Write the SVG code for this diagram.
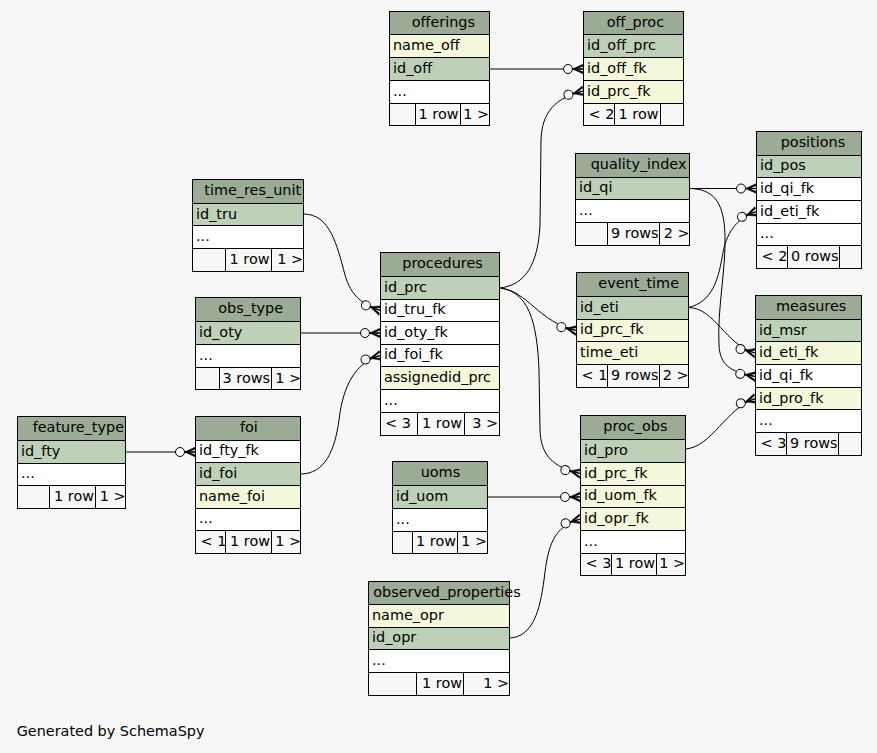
<svg xmlns="http://www.w3.org/2000/svg" width="877" height="753" viewBox="0 0 877 753">
<style>
.h{fill:#9bab96;stroke:#000;stroke-width:1}
.pk{fill:#bed1b8;stroke:#000;stroke-width:1}
.fk{fill:#f4f7da;stroke:#000;stroke-width:1}
.w{fill:#ffffff;stroke:#000;stroke-width:1}
.f{fill:#f7f7f7;stroke:#000;stroke-width:1}
text{font-family:"DejaVu Sans","Liberation Sans",sans-serif;font-size:14.4px;fill:#000}
.e{text-anchor:end}
.c{fill:none;stroke:#000;stroke-width:1;marker-end:url(#cf)}
</style>
<defs>
<marker id="cf" markerUnits="userSpaceOnUse" orient="auto" viewBox="-22 -7 23 14" markerWidth="23" markerHeight="14" refX="0" refY="0">
<polygon points="0,-5 -11,0 0,5 0,3 -7.5,0 0,-3" fill="#000" stroke="#000" stroke-width="0.5"/>
<path d="M-11,0 H0" stroke="#000" stroke-width="1.2"/>
<circle cx="-15.5" cy="0" r="4.5" fill="#f7f7f7" stroke="#000" stroke-width="1"/>
</marker>
</defs>
<rect x="0" y="0" width="877" height="753" fill="#f7f7f7"/>

<g id="connectors">
<path class="c" d="M489.5,69 H583.5"/>
<path class="c" d="M500,288 C525,285 538,265 540,225 L541,140 C542,112 555,98 583.5,91"/>
<path class="c" d="M500,288 C528,291 538,322 576.5,330.5"/>
<path class="c" d="M500,288 C528,292 537,320 539,370 L540,430 C541,455 552,467 580.5,473.5"/>
<path class="c" d="M303.5,214 C330,214 337,245 345,275 C351,296 362,304 380.5,310.5"/>
<path class="c" d="M300.5,333 H380.5"/>
<path class="c" d="M300.5,474 C325,474 335,450 339,420 C343,385 356,362 380.5,355.5"/>
<path class="c" d="M125.5,452 H195.5"/>
<path class="c" d="M487.5,497 H580.5"/>
<path class="c" d="M509.5,638 C533,637 540,610 544,580 C548,545 553,527 580.5,519"/>
<path class="c" d="M689.5,188.5 H756.5"/>
<path class="c" d="M688.5,307.5 C712,302 718,280 722,258 C726,232 736,219 756.5,211.5"/>
<path class="c" d="M688.5,307.5 C715,308 725,345 755.5,353"/>
<path class="c" d="M689.5,188.5 C712,189 724,200 725,235 C726,270 717,310 719,345 C720,365 730,372 755.5,376.5"/>
<path class="c" d="M685.5,449 C712,447 726,408 755.5,398.5"/>
</g>

<g id="offerings">
<rect class="h" x="389.5" y="11.5" width="100" height="23"/>
<rect class="fk" x="389.5" y="34.5" width="100" height="23"/>
<rect class="pk" x="389.5" y="57.5" width="100" height="23"/>
<rect class="w" x="389.5" y="80.5" width="100" height="23"/>
<rect class="f" x="389.5" y="103.5" width="26" height="22"/>
<rect class="f" x="415.5" y="103.5" width="45" height="22"/>
<rect class="f" x="460.5" y="103.5" width="29" height="22"/>
<text x="411.7" y="26.5">offerings</text>
<text x="393" y="49.5">name_off</text>
<text x="393" y="72.5">id_off</text>
<text x="393" y="95.5">...</text>
<text class="e" x="458.5" y="118.5">1 row</text>
<text class="e" x="489" y="118.5">1 &gt;</text>
</g>

<g id="off_proc">
<rect class="h" x="583.5" y="11.5" width="100" height="23"/>
<rect class="pk" x="583.5" y="34.5" width="100" height="23"/>
<rect class="fk" x="583.5" y="57.5" width="100" height="23"/>
<rect class="fk" x="583.5" y="80.5" width="100" height="23"/>
<rect class="f" x="583.5" y="103.5" width="31" height="22"/>
<rect class="f" x="614.5" y="103.5" width="46" height="22"/>
<rect class="f" x="660.5" y="103.5" width="23" height="22"/>
<text x="606.7" y="26.5">off_proc</text>
<text x="587" y="49.5">id_off_prc</text>
<text x="587" y="72.5">id_off_fk</text>
<text x="587" y="95.5">id_prc_fk</text>
<text x="588.5" y="118.5">&lt; 2</text>
<text class="e" x="658.5" y="118.5">1 row</text>
</g>

<g id="time_res_unit">
<rect class="h" x="192.5" y="179.5" width="111" height="24"/>
<rect class="pk" x="192.5" y="203.5" width="111" height="22"/>
<rect class="w" x="192.5" y="225.5" width="111" height="23"/>
<rect class="f" x="192.5" y="248.5" width="33" height="23"/>
<rect class="f" x="225.5" y="248.5" width="46" height="23"/>
<rect class="f" x="271.5" y="248.5" width="32" height="23"/>
<text x="204.3" y="194.5">time_res_unit</text>
<text x="196" y="218.5">id_tru</text>
<text x="196" y="240.5">...</text>
<text class="e" x="269.5" y="263.5">1 row</text>
<text class="e" x="303" y="263.5">1 &gt;</text>
</g>

<g id="obs_type">
<rect class="h" x="195.5" y="297.5" width="105" height="24"/>
<rect class="pk" x="195.5" y="321.5" width="105" height="23"/>
<rect class="w" x="195.5" y="344.5" width="105" height="23"/>
<rect class="f" x="195.5" y="367.5" width="24" height="22"/>
<rect class="f" x="219.5" y="367.5" width="52" height="22"/>
<rect class="f" x="271.5" y="367.5" width="29" height="22"/>
<text x="218.3" y="312.5">obs_type</text>
<text x="199" y="336.5">id_oty</text>
<text x="199" y="359.5">...</text>
<text class="e" x="270" y="382.5">3 rows</text>
<text class="e" x="301" y="382.5">1 &gt;</text>
</g>

<g id="procedures">
<rect class="h" x="380.5" y="252.5" width="119" height="24"/>
<rect class="pk" x="380.5" y="276.5" width="119" height="23"/>
<rect class="w" x="380.5" y="299.5" width="119" height="22"/>
<rect class="w" x="380.5" y="321.5" width="119" height="23"/>
<rect class="w" x="380.5" y="344.5" width="119" height="22"/>
<rect class="fk" x="380.5" y="366.5" width="119" height="23"/>
<rect class="w" x="380.5" y="389.5" width="119" height="23"/>
<rect class="f" x="380.5" y="412.5" width="37" height="23"/>
<rect class="f" x="417.5" y="412.5" width="47" height="23"/>
<rect class="f" x="464.5" y="412.5" width="35" height="23"/>
<text x="402.3" y="267.5">procedures</text>
<text x="384" y="291.5">id_prc</text>
<text x="384" y="314">id_tru_fk</text>
<text x="384" y="336.5">id_oty_fk</text>
<text x="384" y="359">id_foi_fk</text>
<text x="384" y="381.5">assignedid_prc</text>
<text x="384" y="404.5">...</text>
<text x="385" y="427.5">&lt; 3</text>
<text class="e" x="462" y="427.5">1 row</text>
<text class="e" x="498" y="427.5">3 &gt;</text>
</g>

<g id="quality_index">
<rect class="h" x="575.5" y="153.5" width="114" height="24"/>
<rect class="pk" x="575.5" y="177.5" width="114" height="22"/>
<rect class="w" x="575.5" y="199.5" width="114" height="23"/>
<rect class="f" x="575.5" y="222.5" width="32" height="23"/>
<rect class="f" x="607.5" y="222.5" width="52" height="23"/>
<rect class="f" x="659.5" y="222.5" width="30" height="23"/>
<text x="590.7" y="168.5">quality_index</text>
<text x="579" y="192">id_qi</text>
<text x="579" y="214.5">...</text>
<text class="e" x="658.5" y="237.5">9 rows</text>
<text class="e" x="689.5" y="237.5">2 &gt;</text>
</g>

<g id="positions">
<rect class="h" x="756.5" y="131.5" width="105" height="24"/>
<rect class="pk" x="756.5" y="155.5" width="105" height="22"/>
<rect class="w" x="756.5" y="177.5" width="105" height="23"/>
<rect class="w" x="756.5" y="200.5" width="105" height="23"/>
<rect class="w" x="756.5" y="223.5" width="105" height="22"/>
<rect class="f" x="756.5" y="245.5" width="31" height="23"/>
<rect class="f" x="787.5" y="245.5" width="52" height="23"/>
<rect class="f" x="839.5" y="245.5" width="22" height="23"/>
<text x="780.7" y="146.5">positions</text>
<text x="760" y="170">id_pos</text>
<text x="760" y="192.5">id_qi_fk</text>
<text x="760" y="215.5">id_eti_fk</text>
<text x="760" y="238">...</text>
<text x="761.5" y="260.5">&lt; 2</text>
<text class="e" x="838.5" y="260.5">0 rows</text>
</g>

<g id="event_time">
<rect class="h" x="576.5" y="272.5" width="112" height="24"/>
<rect class="pk" x="576.5" y="296.5" width="112" height="23"/>
<rect class="fk" x="576.5" y="319.5" width="112" height="22"/>
<rect class="fk" x="576.5" y="341.5" width="112" height="23"/>
<rect class="f" x="576.5" y="364.5" width="31" height="23"/>
<rect class="f" x="607.5" y="364.5" width="52" height="23"/>
<rect class="f" x="659.5" y="364.5" width="29" height="23"/>
<text x="598.3" y="287.5">event_time</text>
<text x="580" y="311.5">id_eti</text>
<text x="580" y="334">id_prc_fk</text>
<text x="580" y="356.5">time_eti</text>
<text x="581.5" y="379.5">&lt; 1</text>
<text class="e" x="658.5" y="379.5">9 rows</text>
<text class="e" x="688.5" y="379.5">2 &gt;</text>
</g>

<g id="measures">
<rect class="h" x="755.5" y="295.5" width="106" height="24"/>
<rect class="pk" x="755.5" y="319.5" width="106" height="22"/>
<rect class="fk" x="755.5" y="341.5" width="106" height="23"/>
<rect class="w" x="755.5" y="364.5" width="106" height="23"/>
<rect class="fk" x="755.5" y="387.5" width="106" height="22"/>
<rect class="w" x="755.5" y="409.5" width="106" height="23"/>
<rect class="f" x="755.5" y="432.5" width="31" height="23"/>
<rect class="f" x="786.5" y="432.5" width="52" height="23"/>
<rect class="f" x="838.5" y="432.5" width="23" height="23"/>
<text x="776" y="310.5">measures</text>
<text x="759" y="334.5">id_msr</text>
<text x="759" y="356.5">id_eti_fk</text>
<text x="759" y="379.5">id_qi_fk</text>
<text x="759" y="402.5">id_pro_fk</text>
<text x="759" y="424.5">...</text>
<text x="760.5" y="447.5">&lt; 3</text>
<text class="e" x="837.5" y="447.5">9 rows</text>
</g>

<g id="proc_obs">
<rect class="h" x="580.5" y="415.5" width="105" height="24"/>
<rect class="pk" x="580.5" y="439.5" width="105" height="23"/>
<rect class="fk" x="580.5" y="462.5" width="105" height="23"/>
<rect class="fk" x="580.5" y="485.5" width="105" height="22"/>
<rect class="fk" x="580.5" y="507.5" width="105" height="23"/>
<rect class="w" x="580.5" y="530.5" width="105" height="23"/>
<rect class="f" x="580.5" y="553.5" width="31" height="22"/>
<rect class="f" x="611.5" y="553.5" width="45" height="22"/>
<rect class="f" x="656.5" y="553.5" width="29" height="22"/>
<text x="603.3" y="430.5">proc_obs</text>
<text x="584" y="454.5">id_pro</text>
<text x="584" y="477.5">id_prc_fk</text>
<text x="584" y="500">id_uom_fk</text>
<text x="584" y="522.5">id_opr_fk</text>
<text x="584" y="545.5">...</text>
<text x="585.5" y="568">&lt; 3</text>
<text class="e" x="655" y="568">1 row</text>
<text class="e" x="685" y="568">1 &gt;</text>
</g>

<g id="uoms">
<rect class="h" x="392.5" y="461.5" width="95" height="24"/>
<rect class="pk" x="392.5" y="485.5" width="95" height="23"/>
<rect class="w" x="392.5" y="508.5" width="95" height="23"/>
<rect class="f" x="392.5" y="531.5" width="20" height="22"/>
<rect class="f" x="412.5" y="531.5" width="45" height="22"/>
<rect class="f" x="457.5" y="531.5" width="30" height="22"/>
<text x="420.7" y="476.5">uoms</text>
<text x="396" y="500.5">id_uom</text>
<text x="396" y="523.5">...</text>
<text class="e" x="456" y="546">1 row</text>
<text class="e" x="487" y="546">1 &gt;</text>
</g>

<g id="feature_type">
<rect class="h" x="17.5" y="416.5" width="108" height="24"/>
<rect class="pk" x="17.5" y="440.5" width="108" height="23"/>
<rect class="w" x="17.5" y="463.5" width="108" height="22"/>
<rect class="f" x="17.5" y="485.5" width="32" height="23"/>
<rect class="f" x="49.5" y="485.5" width="46" height="23"/>
<rect class="f" x="95.5" y="485.5" width="30" height="23"/>
<text x="32.7" y="431.5">feature_type</text>
<text x="21" y="455.5">id_fty</text>
<text x="21" y="477.5">...</text>
<text class="e" x="94" y="500.5">1 row</text>
<text class="e" x="125.5" y="500.5">1 &gt;</text>
</g>

<g id="foi">
<rect class="h" x="195.5" y="416.5" width="105" height="24"/>
<rect class="w" x="195.5" y="440.5" width="105" height="22"/>
<rect class="pk" x="195.5" y="462.5" width="105" height="23"/>
<rect class="fk" x="195.5" y="485.5" width="105" height="23"/>
<rect class="w" x="195.5" y="508.5" width="105" height="22"/>
<rect class="f" x="195.5" y="530.5" width="30" height="23"/>
<rect class="f" x="225.5" y="530.5" width="46" height="23"/>
<rect class="f" x="271.5" y="530.5" width="29" height="23"/>
<text x="240" y="431.5">foi</text>
<text x="199" y="455">id_fty_fk</text>
<text x="199" y="477.5">id_foi</text>
<text x="199" y="500.5">name_foi</text>
<text x="199" y="523">...</text>
<text x="200.5" y="545.5">&lt; 1</text>
<text class="e" x="270" y="545.5">1 row</text>
<text class="e" x="301" y="545.5">1 &gt;</text>
</g>

<g id="observed_properties">
<rect class="h" x="368.5" y="581.5" width="141" height="23"/>
<rect class="fk" x="368.5" y="604.5" width="141" height="23"/>
<rect class="pk" x="368.5" y="627.5" width="141" height="22"/>
<rect class="w" x="368.5" y="649.5" width="141" height="23"/>
<rect class="f" x="368.5" y="672.5" width="48" height="23"/>
<rect class="f" x="416.5" y="672.5" width="47" height="23"/>
<rect class="f" x="463.5" y="672.5" width="46" height="23"/>
<text x="373.3" y="596.5">observed_properties</text>
<text x="372" y="619.5">name_opr</text>
<text x="372" y="642">id_opr</text>
<text x="372" y="664.5">...</text>
<text class="e" x="462" y="687.5">1 row</text>
<text class="e" x="509" y="687.5">1 &gt;</text>
</g>

<text x="16.7" y="736">Generated by SchemaSpy</text>
</svg>
